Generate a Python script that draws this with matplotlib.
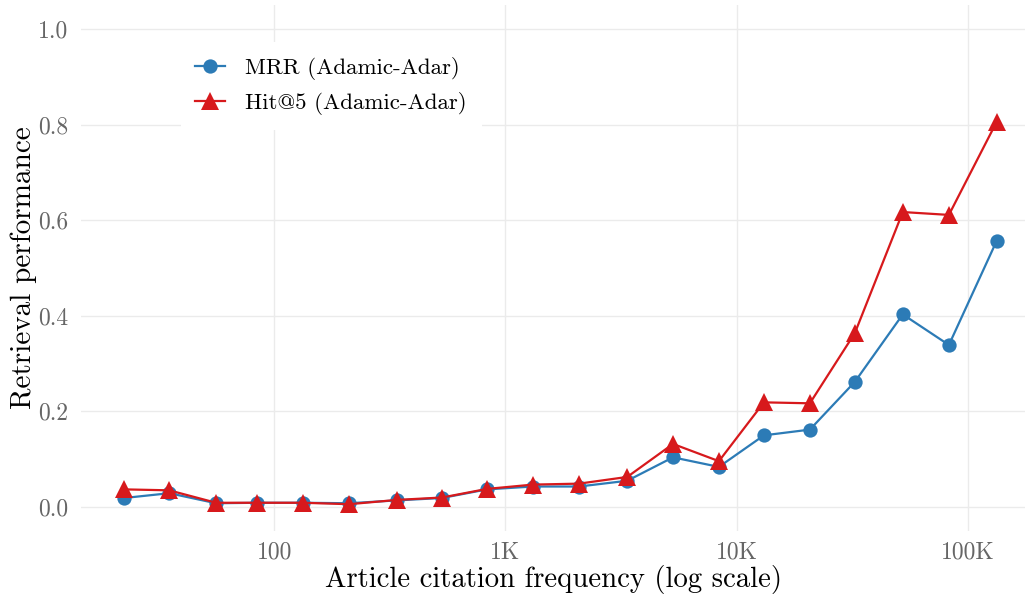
import matplotlib
matplotlib.use("Agg")
import matplotlib.pyplot as plt
from matplotlib.ticker import FixedLocator, FixedFormatter, NullLocator

plt.rcParams['font.family'] = ['cmr10', 'DejaVu Serif']
plt.rcParams['axes.formatter.use_mathtext'] = True
plt.rcParams['mathtext.fontset'] = 'cm'

citations = [22.5, 35.2, 56.1, 84.5, 133, 211, 340, 532, 832, 1315, 2080, 3360,
             5300, 8370, 13100, 20700, 32400, 52200, 82600, 133000]
mrr = [0.019, 0.029, 0.008, 0.009, 0.009, 0.008, 0.014, 0.019, 0.037, 0.043,
       0.043, 0.055, 0.104, 0.084, 0.150, 0.162, 0.262, 0.403, 0.339, 0.557]
hit5 = [0.037, 0.035, 0.009, 0.009, 0.009, 0.006, 0.015, 0.020, 0.038, 0.047,
        0.049, 0.063, 0.132, 0.096, 0.219, 0.217, 0.364, 0.617, 0.611, 0.806]
xticks = [100, 1000, 10000, 100000]
xticklabels = ['100', '1K', '10K', '100K']
yticks = [0.0, 0.2, 0.4, 0.6, 0.8, 1.0]
yticklabels = ['0.0', '0.2', '0.4', '0.6', '0.8', '1.0']

blue = '#2c7bb6'
red = '#d7191c'

fig = plt.figure(figsize=(10.29, 5.95), dpi=100)
ax = fig.add_axes([0.079, 0.1076, 0.917, 0.884])

ax.plot(citations, mrr, color=blue, lw=1.6, marker='o', ms=10.3, mew=0,
        label='MRR (Adamic-Adar)', zorder=3)
ax.plot(citations, hit5, color=red, lw=1.6, marker='^', ms=13.6, mew=0,
        label='Hit@5 (Adamic-Adar)', zorder=4)

ax.set_xscale('log')
ax.set_xlim(14.66, 176000)
ax.set_ylim(-0.05, 1.05)
ax.xaxis.set_major_locator(FixedLocator(xticks))
ax.xaxis.set_major_formatter(FixedFormatter(xticklabels))
ax.xaxis.set_minor_locator(NullLocator())
ax.set_yticks(yticks)
ax.set_yticklabels(yticklabels)

ax.grid(True, which='major', color='#ebebeb', lw=1.0, zorder=0)
ax.set_axisbelow(True)
for s in ax.spines.values():
    s.set_visible(False)
ax.tick_params(length=0, labelsize=17, labelcolor='#666666')
ax.tick_params(axis='y', pad=9.5)
ax.tick_params(axis='x', pad=7.5)

xl = ax.set_xlabel('Article citation frequency (log scale)', fontsize=21)
yl = ax.set_ylabel('Retrieval performance', fontsize=21)

# size labels to the reference's text extents
fig.canvas.draw()
r = fig.canvas.get_renderer()
wx = xl.get_window_extent(r).width
xl.set_fontsize(21 * 457.0 / wx)
hy = yl.get_window_extent(r).height
yl.set_fontsize(21 * 283.0 / hy)

ax.xaxis.set_label_coords(0.5, -0.064)
ax.yaxis.set_label_coords(-0.0466, 0.5)

leg = ax.legend(loc='upper left', bbox_to_anchor=(0.093, 0.951), fontsize=16.5,
                frameon=True, fancybox=False, edgecolor='none', facecolor='white',
                framealpha=1.0, handlelength=1.3, handletextpad=0.87,
                labelspacing=0.53, borderpad=0.65)

fig.savefig('out.png', dpi=100)
